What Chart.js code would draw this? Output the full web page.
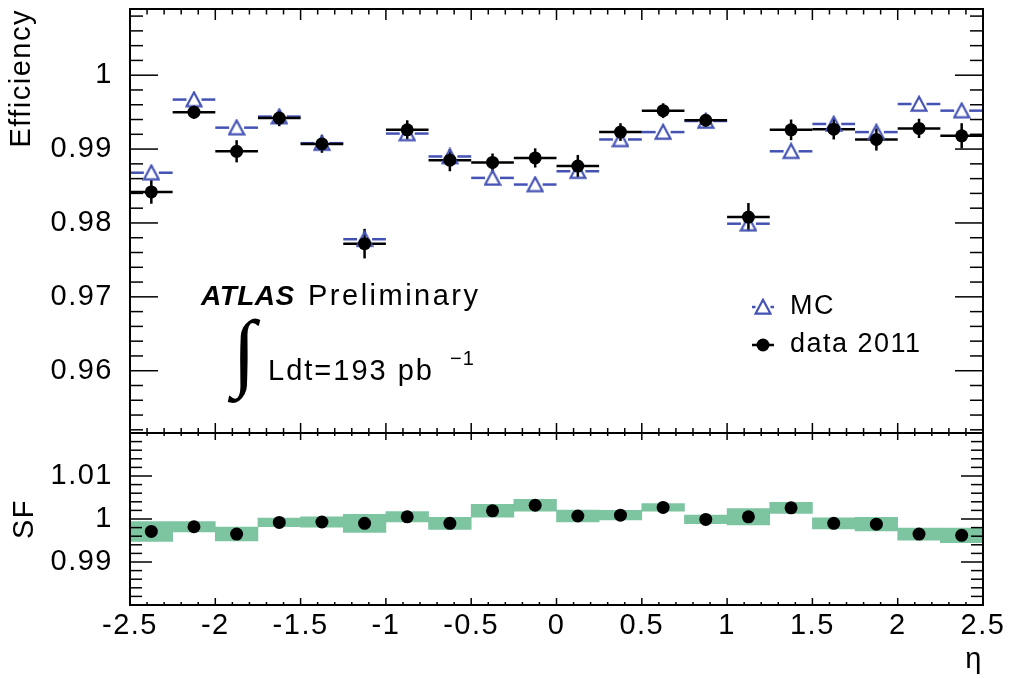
<!DOCTYPE html>
<html><head><meta charset="utf-8">
<script src="https://cdn.jsdelivr.net/npm/chart.js@4/dist/chart.umd.min.js"></script>
<style>
html,body{margin:0;padding:0;background:#fff;}
#wrap{position:relative;width:1010px;height:679px;background:#fff;}
#wrap canvas{position:absolute;left:0;top:0;}
</style></head><body>
<div id="wrap"><canvas id="topc" width="1010" height="679" style="width:1010px;height:679px"></canvas><canvas id="botc" width="1010" height="679" style="width:1010px;height:679px"></canvas></div>
<script>
// ---- data ----
const etaCenters = [-2.375,-2.125,-1.875,-1.625,-1.375,-1.125,-0.875,-0.625,-0.375,-0.125,0.125,0.375,0.625,0.875,1.125,1.375,1.625,1.875,2.125,2.375];
const binHalfWidth = 0.125;
const mcEff   = [0.9868,0.9967,0.9929,0.9944,0.9908,0.9778,0.9921,0.9890,0.9861,0.9852,0.9870,0.9913,0.9923,0.9938,0.9799,0.9897,0.9934,0.9923,0.9961,0.9952];
const dataEff = [0.9842,0.9950,0.9897,0.9942,0.9907,0.9772,0.9926,0.9885,0.9882,0.9888,0.9877,0.9923,0.9952,0.9939,0.9808,0.9926,0.9927,0.9913,0.9928,0.9918];
const dataErr = [0.0016,0.0009,0.0015,0.0011,0.0012,0.0020,0.0013,0.0015,0.0012,0.0013,0.0015,0.0012,0.0010,0.0009,0.0019,0.0014,0.0014,0.0015,0.0013,0.0017];
const sfValues = [0.9971,0.9982,0.9965,0.9992,0.9993,0.9990,1.0005,0.9990,1.0019,1.0032,1.0007,1.0009,1.0027,0.9999,1.0005,1.0026,0.9990,0.9988,0.9965,0.9962];
const sfErr    = [0.0023,0.0012,0.0016,0.0010,0.0012,0.0021,0.0012,0.0014,0.0015,0.0014,0.0014,0.0011,0.0009,0.0010,0.0019,0.0013,0.0013,0.0016,0.0014,0.0017];
const etaTicks = [-2.5,-2,-1.5,-1,-0.5,0,0.5,1,1.5,2,2.5];
const effTicks = [0.96,0.97,0.98,0.99,1];
const sfTicks  = [0.99,1,1.01];

// ---- style ----
const FONT = "'Liberation Sans', Arial, Helvetica, sans-serif";
const MC_COLOR = '#4452b4';
const BAND_COLOR = '#7dc4a0';
const fmt = v => String(Number(Number(v).toFixed(4)));

function makeTriangle(){
  const c = document.createElement('canvas'); c.width = 18; c.height = 18;
  const g = c.getContext('2d');
  g.strokeStyle = MC_COLOR; g.lineWidth = 2.2;
  g.beginPath(); g.moveTo(9,1.8); g.lineTo(16.4,15.6); g.lineTo(1.6,15.6); g.closePath(); g.stroke();
  return c;
}
const triImg = makeTriangle();

function seg(ctx,x0,y0,x1,y1){ctx.beginPath();ctx.moveTo(x0,y0);ctx.lineTo(x1,y1);ctx.stroke();}

const spacingPlugin = {id:'spacing', beforeDraw(chart){ chart.ctx.letterSpacing = '1.5px'; }};
const noPadY = s => { s.width = 130; s.paddingTop = 0; s.paddingBottom = 0; };

function frameTicks(cfg){
  return {id:'frameTicks', afterDraw(chart){
    const ctx = chart.ctx, a = chart.chartArea, xs = chart.scales.x, ys = chart.scales.y;
    ctx.save(); ctx.strokeStyle = '#000'; ctx.lineWidth = 1.5;
    const kx0 = Math.ceil(xs.min/cfg.xMinor - 1e-6), kx1 = Math.floor(xs.max/cfg.xMinor + 1e-6);
    for (let k = kx0; k <= kx1; k++) {
      const px = xs.getPixelForValue(k*cfg.xMinor);
      if (px < a.left + 1 || px > a.right - 1) continue;
      const major = k % cfg.ratio === 0;
      seg(ctx, px, a.bottom, px, a.bottom - (major ? cfg.xMajB : cfg.xMinB));
      seg(ctx, px, a.top, px, a.top + (major ? cfg.xMajT : cfg.xMinT));
    }
    const ky0 = Math.ceil(ys.min/cfg.yMinor - 1e-6), ky1 = Math.floor(ys.max/cfg.yMinor + 1e-6);
    for (let k = ky0; k <= ky1; k++) {
      const py = ys.getPixelForValue(k*cfg.yMinor);
      if (py < a.top + 1 || py > a.bottom - 1) continue;
      const major = k % cfg.ratio === 0;
      const L = major ? cfg.yMaj : cfg.yMin;
      seg(ctx, a.left, py, a.left + L, py);
      seg(ctx, a.right, py, a.right - L, py);
    }
    ctx.lineWidth = 2;
    ctx.strokeRect(a.left, a.top, a.right - a.left, a.bottom - a.top);
    ctx.restore();
  }};
}

const effErrorBars = {id:'effErrorBars', beforeDatasetsDraw(chart){
  const ctx = chart.ctx, xs = chart.scales.x, ys = chart.scales.y, a = chart.chartArea;
  ctx.save();
  ctx.beginPath(); ctx.rect(a.left, a.top, a.right-a.left, a.bottom-a.top); ctx.clip();
  ctx.lineWidth = 2.5;
  ctx.strokeStyle = MC_COLOR;
  etaCenters.forEach((c,i) => {
    const x0 = xs.getPixelForValue(c-binHalfWidth), x1 = xs.getPixelForValue(c+binHalfWidth), xc = xs.getPixelForValue(c);
    const y = ys.getPixelForValue(mcEff[i]);
    seg(ctx, x0, y, xc-7.5, y); seg(ctx, xc+7.5, y, x1, y);
  });
  ctx.strokeStyle = '#000';
  etaCenters.forEach((c,i) => {
    const x0 = xs.getPixelForValue(c-binHalfWidth), x1 = xs.getPixelForValue(c+binHalfWidth), xc = xs.getPixelForValue(c);
    const y = ys.getPixelForValue(dataEff[i]);
    seg(ctx, x0, y, x1, y);
    seg(ctx, xc, ys.getPixelForValue(dataEff[i]-dataErr[i]), xc, ys.getPixelForValue(dataEff[i]+dataErr[i]));
  });
  ctx.restore();
}};

const annotations = {id:'annotations', afterDraw(chart){
  const ctx = chart.ctx;
  ctx.save();
  ctx.fillStyle = '#000'; ctx.textBaseline = 'alphabetic'; ctx.textAlign = 'left';
  ctx.letterSpacing = '0.5px';
  ctx.font = "italic bold 28px " + FONT;
  ctx.fillText('ATLAS', 201, 305);
  ctx.letterSpacing = '2.5px';
  ctx.font = "29px " + FONT;
  ctx.fillText('Preliminary', 308, 305);
  ctx.letterSpacing = '0px';
  ctx.font = "86px 'Liberation Serif', serif";
  ctx.textAlign = 'center';
  ctx.fillText('\u222B', 244, 380);
  ctx.textAlign = 'left';
  ctx.letterSpacing = '2px';
  ctx.font = "29px " + FONT;
  ctx.fillText('Ldt=193 pb', 268, 380);
  ctx.letterSpacing = '1px';
  ctx.font = "20px " + FONT;
  ctx.fillText('\u22121', 450, 365);
  // legend
  const lx = 763;
  ctx.lineWidth = 2.5;
  ctx.strokeStyle = MC_COLOR;
  seg(ctx, lx-11, 307, lx-7.5, 307); seg(ctx, lx+7.5, 307, lx+11, 307);
  ctx.drawImage(triImg, lx-9, 307-9);
  ctx.strokeStyle = '#000';
  seg(ctx, lx-11, 345, lx+11, 345);
  ctx.beginPath(); ctx.arc(lx, 345, 6.5, 0, Math.PI*2); ctx.fill();
  ctx.letterSpacing = '1.5px';
  ctx.font = "27px " + FONT;
  ctx.textBaseline = 'middle';
  ctx.fillText('MC', 790, 307);
  ctx.fillText('data 2011', 790, 345);
  ctx.restore();
}};

const tickFont = {family: FONT, size: 29};

new Chart(document.getElementById('topc'), {
  type: 'scatter',
  data: {datasets: [
    {label:'data 2011', data: etaCenters.map((x,i)=>({x, y:dataEff[i]})), pointStyle:'circle', pointRadius:6.5, backgroundColor:'#000', borderColor:'#000', borderWidth:0, order:0},
    {label:'MC', data: etaCenters.map((x,i)=>({x, y:mcEff[i]})), pointStyle: triImg, pointRadius:8, order:1}
  ]},
  options: {
    responsive:false, animation:false, devicePixelRatio:1, events:[],
    layout:{padding:{left:0, right:27, top:4, bottom:246}},
    plugins:{legend:{display:false}, tooltip:{enabled:false}},
    scales:{
      x:{type:'linear', display:false, min:-2.5, max:2.5, offset:false},
      y:{type:'linear', min:0.95157, max:1.00896,
         afterBuildTicks: s => { s.ticks = effTicks.map(v=>({value:v})); },
         afterFit: noPadY,
         grid:{display:false, drawTicks:false}, border:{display:false},
         ticks:{padding:17, font:tickFont, color:'#000', callback: v => fmt(v)},
         title:{display:true, text:'Efficiency', align:'end', color:'#000', font:{family:FONT, size:29}, padding:{top:5}}}
    }
  },
  plugins:[spacingPlugin, effErrorBars, frameTicks({xMinor:0.1, yMinor:0.002, ratio:5, xMajB:10, xMinB:5, xMajT:11, xMinT:5.5, yMaj:28, yMin:13}), annotations]
});

new Chart(document.getElementById('botc'), {
  type: 'scatter',
  data: {datasets: [
    {type:'scatter', label:'SF', data: etaCenters.map((x,i)=>({x, y:sfValues[i]})), pointStyle:'circle', pointRadius:6.5, backgroundColor:'#000', borderColor:'#000', borderWidth:0, order:0},
    {type:'bar', label:'SF uncertainty', data: etaCenters.map((x,i)=>({x, y:[sfValues[i]-sfErr[i], sfValues[i]+sfErr[i]]})), backgroundColor:BAND_COLOR, borderWidth:0, barPercentage:1, categoryPercentage:1, order:1}
  ]},
  options: {
    responsive:false, animation:false, devicePixelRatio:1, events:[],
    layout:{padding:{left:0, right:27, top:433, bottom:0}},
    plugins:{legend:{display:false}, tooltip:{enabled:false}},
    scales:{
      x:{type:'linear', min:-2.5, max:2.5, offset:false,
         afterBuildTicks: s => { s.ticks = etaTicks.map(v=>({value:v})); },
         afterFit: s => { s.height = 74; s.paddingLeft = 0; s.paddingRight = 0; },
         grid:{display:false, drawTicks:false}, border:{display:false},
         ticks:{padding:4, font:tickFont, color:'#000', maxRotation:0, autoSkip:false, callback: v => fmt(v)},
         title:{display:true, text:'\u03B7', align:'end', color:'#000', font:{family:FONT, size:29}, padding:{bottom:2}}},
      y:{type:'linear', min:0.98, max:1.02,
         afterBuildTicks: s => { s.ticks = sfTicks.map(v=>({value:v})); },
         afterFit: noPadY,
         grid:{display:false, drawTicks:false}, border:{display:false},
         ticks:{padding:17, font:tickFont, color:'#000', callback: v => fmt(v)},
         title:{display:true, text:'SF', align:'center', color:'#000', font:{family:FONT, size:29}, padding:{top:8}}}
    }
  },
  plugins:[spacingPlugin, frameTicks({xMinor:0.1, yMinor:0.002, ratio:5, xMajB:7, xMinB:3, xMajT:7, xMinT:3, yMaj:22, yMin:12})]
});
</script>
</body></html>
